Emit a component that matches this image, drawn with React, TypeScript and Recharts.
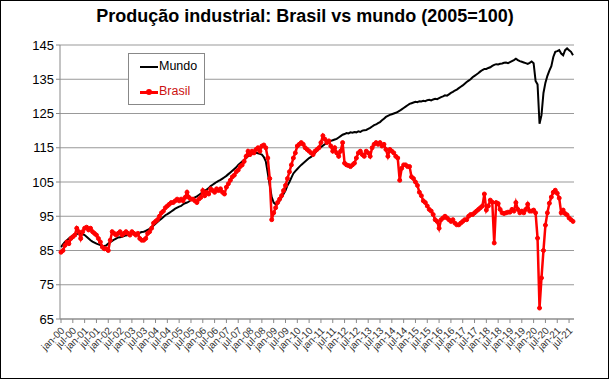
import { LineChart, Line, XAxis, YAxis, CartesianGrid } from "recharts";

const MONTHS = ["jan", "fev", "mar", "abr", "mai", "jun", "jul", "ago", "set", "out", "nov", "dez"];
const YEARS = ["00", "01", "02", "03", "04", "05", "06", "07", "08", "09", "10", "11", "12", "13", "14", "15", "16", "17", "18", "19", "20", "21"];
const Y_TICKS = [65, 75, 85, 95, 105, 115, 125, 135, 145];

// jan-00 .. set-21
const MUNDO = [
  86, 86.8, 87.5, 88, 88.5, 89, 89.3, 89.5, 89.8, 90, 90, 89.8,
  89.5, 89, 88.5, 88, 87.6, 87.3, 87, 86.8, 86.6, 86.4, 86.3, 86.5,
  87, 87.4, 87.8, 88.2, 88.5, 88.8, 88.9, 89, 89.2, 89.4, 89.5, 89.6,
  90, 90.1, 89.8, 89.9, 90.2, 90.4, 90.5, 90.7, 91, 91.3, 91.8, 92.3,
  92.8, 93.3, 93.8, 94.3, 94.8, 95.3, 95.6, 96, 96.4, 96.8, 97.2, 97.5,
  97.8, 98, 98.5, 98.8, 99, 99.3, 99.8, 100.2, 100.5, 100.8, 101.2, 101.6,
  102, 102.4, 102.8, 103.2, 103.8, 104.2, 104.6, 105, 105.3, 105.6, 106, 106.4,
  106.8, 107.3, 107.8, 108.3, 108.8, 109.3, 110, 110.5, 111, 111.5, 112, 112.6,
  113, 113.2, 113.4, 113.5, 113.4, 113.2, 113, 112.3, 111, 107.6, 104, 100.6,
  99, 98.5, 98.8, 99.5, 100.5, 101.5, 102.5, 104, 105, 106.3, 107.5, 108.2,
  108.8, 109.4, 110, 110.5, 111, 111.5, 112, 112.3, 112.8, 113.5, 114.2, 114.8,
  115.2, 115.6, 116, 116.5, 116.7, 117, 117.2, 117.4, 117.6, 118, 118.4, 118.8,
  119, 119.3, 119.2, 119.5, 119.4, 119.6, 119.5, 119.8, 119.6, 120, 120.1, 120.2,
  120.5, 120.8, 121.2, 121.6, 121.8, 122.2, 122.5, 123, 123.5, 124, 124.3, 124.6,
  124.8, 125, 125.2, 125.5, 125.8, 126.2, 126.6, 127, 127.4, 127.8, 128, 128.2,
  128.4, 128.3, 128.6, 128.5, 128.7, 128.6, 128.9, 129, 128.8, 129.1, 129.3, 129.2,
  129.5, 129.8, 130, 130.3, 130.2, 130.6, 131, 131.3, 131.7, 132, 132.4, 132.8,
  133.2, 133.7, 134.2, 134.6, 135, 135.6, 136, 136.4, 136.8, 137.3, 137.7, 138,
  138, 138.3, 138.5, 138.9, 139.2, 139.4, 139.3, 139.5, 139.6, 139.8, 139.9, 139.7,
  140, 140.3, 140.6, 141, 140.6, 140.3, 140.1, 139.9, 139.7, 139.5, 139.8, 140.2,
  139.7, 134.5, 133.5, 122, 124.5, 131, 134, 136, 137.5, 138.8, 141.5, 143,
  143.2, 143.5, 142.5, 142, 143.5, 144, 143.5, 143, 142,
];

const BRASIL = [
  84.5, 85, 86.5, 87.5, 87, 88.5, 89, 89.5, 91.5, 90.5, 88.5, 90.5,
  91.5, 91.8, 91, 91.5, 90.5, 90, 89.5, 88.5, 87.5, 86, 85.5, 85.5,
  85, 88, 90.5, 90, 89.5, 90, 90.5, 89.5, 90, 90.5, 90, 89.5,
  90.5, 90, 89.5, 90, 88.5, 88, 88, 88.5, 90, 90.5, 91.5, 93,
  93.5, 94, 95, 96, 96.5, 97.5, 98, 98.5, 99, 99, 99.5, 100,
  99.5, 100, 99.5, 100.5, 102, 100.5, 100, 100, 99.5, 99, 100, 100.5,
  102.5, 101, 102, 101.5, 103, 102.5, 102, 103, 102.5, 103, 102, 101.5,
  103.5, 104.5, 105.5, 106.5, 107, 108, 108.5, 109.5, 110, 111, 112.5, 114,
  113, 114, 113.5, 114.5, 115, 114, 115.5, 115.8, 115, 112, 106, 94,
  96, 97.5, 99, 100, 101, 102.5, 104, 106, 108, 110, 112, 113.5,
  115.5, 116, 116.5, 116, 115, 114.5, 114, 113.5, 113, 114, 114.5, 115,
  116.5, 118.5, 117.5, 116.5, 117, 115.5, 114, 115, 113.5, 112.5, 114, 116.5,
  110.5, 110, 109.8, 109.5, 110, 110.5, 112, 113.5, 114, 113, 112.5, 114,
  113.5, 112.5, 115, 116, 116.5, 116, 116.5, 115.5, 116, 114.5, 112.5, 114.5,
  114, 113.5, 112.5, 112, 105.5, 109, 110, 110, 109.5, 109.5, 106.5, 106,
  105, 104, 102, 101, 99.5, 99, 98, 97, 96.5, 95.5, 94, 93.5,
  91.5, 94, 94.5, 95, 94.5, 94, 93.5, 94, 93, 92.5, 92.5, 93,
  93.5, 94, 94, 95, 95.5, 95.5, 96, 96.5, 97, 97.5, 98, 101.5,
  96.8, 98, 99.7, 99.1, 87.2, 99, 98.7, 97, 96, 95.8, 96, 96.2,
  96.2, 97, 96.5, 99, 97, 96, 96.5, 96, 97, 98.5, 96.5, 96.5,
  96.8, 96, 88.6, 68.2, 77, 85, 92.4, 96, 98.8, 100.6, 102, 102.6,
  101.7, 100.3, 96, 96.8, 95.8, 95.4, 94.5, 94, 93.5,
];

const data = MUNDO.map((m, i) => ({
  label: `${MONTHS[i % 12]}-${YEARS[Math.floor(i / 12)]}`,
  mundo: m,
  brasil: BRASIL[i],
}));

const FONT = "'Liberation Sans', Arial, sans-serif";

function XTick({ x, y, payload }: any) {
  return (
    <g transform={`translate(${x},${y + 2})`}>
      <text textAnchor="end" fontSize={10} fill="#333" fontFamily={FONT} transform="rotate(-45)" dy={6}>
        {payload.value}
      </text>
    </g>
  );
}

export default function App() {
  return (
    <div style={{ position: "absolute", left: 0, top: 0, width: 610, height: 380, background: "#fff", fontFamily: FONT }}>
      <div
        style={{
          position: "absolute",
          left: 0,
          top: 0,
          width: 607,
          height: 377,
          border: "1px solid #000",
        }}
      />
      <div
        style={{
          position: "absolute",
          top: 6,
          width: 610,
          textAlign: "center",
          fontSize: 18,
          fontWeight: "bold",
          color: "#000",
        }}
      >
        Produção industrial: Brasil vs mundo (2005=100)
      </div>
      <div style={{ position: "absolute", left: 0, top: 0 }}>
        <LineChart width={610} height={380} data={data} margin={{ top: 45, right: 36, bottom: 0, left: 0 }}>
          <CartesianGrid vertical={false} stroke="#999" strokeWidth={1} />
          <XAxis
            dataKey="label"
            interval={5}
            tick={<XTick />}
            tickLine={{ stroke: "#888" }}
            tickSize={4}
            axisLine={{ stroke: "#888" }}
            height={61}
            padding={{ left: 1, right: 1 }}
          />
          <YAxis
            domain={[65, 145]}
            ticks={Y_TICKS}
            width={60}
            tick={{ fontSize: 13, fill: "#000", fontFamily: FONT }}
            tickLine={{ stroke: "#888" }}
            tickSize={4}
            axisLine={{ stroke: "#888" }}
          />
          <YAxis yAxisId="r" orientation="right" width={0} tick={false} tickLine={false} axisLine={{ stroke: "#999" }} domain={[65, 145]} />
          <Line
            dataKey="mundo"
            stroke="#000"
            strokeWidth={2}
            dot={false}
            isAnimationActive={false}
          />
          <Line
            dataKey="brasil"
            stroke="#ff0000"
            strokeWidth={2.5}
            dot={{ r: 2, fill: "#ff0000", stroke: "#ff0000", strokeWidth: 1 }}
            isAnimationActive={false}
          />
        </LineChart>
      </div>
      <div
        style={{
          position: "absolute",
          left: 128,
          top: 53,
          width: 75,
          height: 50,
          border: "1px solid #888",
          background: "#fff",
          fontSize: 12.5,
        }}
      >
        <div style={{ position: "absolute", left: 11, top: 12, width: 18, height: 2, background: "#000" }} />
        <div style={{ position: "absolute", left: 30, top: 5, color: "#000" }}>Mundo</div>
        <div style={{ position: "absolute", left: 11, top: 37, width: 18, height: 2.5, background: "#ff0000" }} />
        <div style={{ position: "absolute", left: 17, top: 35, width: 6, height: 6, borderRadius: 3, background: "#ff0000" }} />
        <div style={{ position: "absolute", left: 30, top: 30, color: "#cc1111" }}>Brasil</div>
      </div>
    </div>
  );
}
